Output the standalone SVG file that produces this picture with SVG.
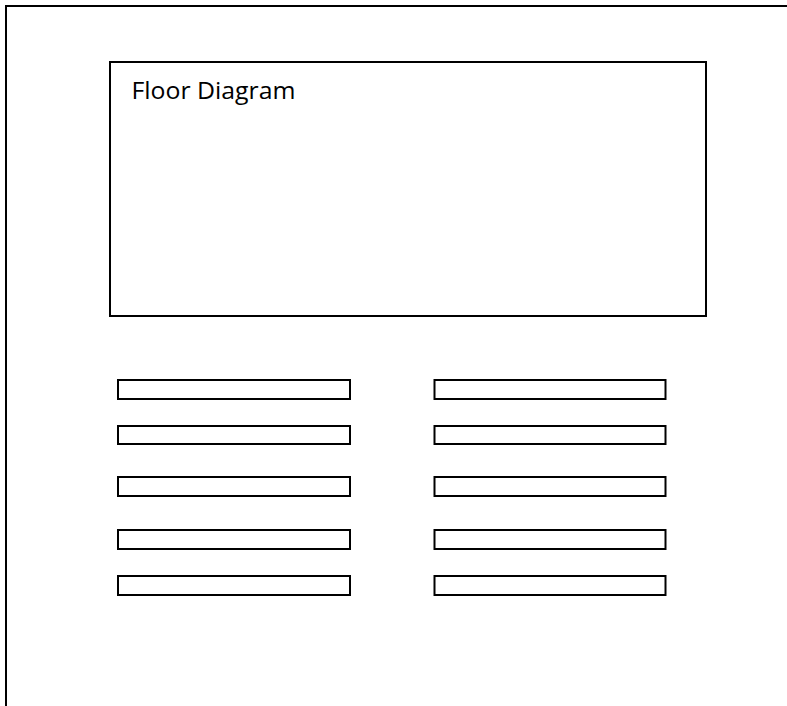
<svg xmlns="http://www.w3.org/2000/svg" width="787" height="706" viewBox="0 0 787 706">
<style>
.frame{fill:none;stroke:#000;stroke-width:2}
.bar{fill:#fff;stroke:#000;stroke-width:2}
.lbl{font-family:"Open Sans","Liberation Sans",sans-serif;font-size:24px;fill:#000}
</style>
<rect width="787" height="706" fill="#fff"/>
<g id="outer-frame">
<path class="frame" d="M6,706 V6 H787"/>
</g>
<g id="floor-diagram">
<rect class="frame" x="110" y="62" width="596" height="254"/>
<text class="lbl" x="131.5" y="99" textLength="164" lengthAdjust="spacingAndGlyphs">Floor Diagram</text>
</g>
<g id="fields-left">
<rect id="f-l1" class="bar" x="118" y="380" width="232" height="19"/>
<rect id="f-l2" class="bar" x="118" y="426" width="232" height="18"/>
<rect id="f-l3" class="bar" x="118" y="477" width="232" height="19"/>
<rect id="f-l4" class="bar" x="118" y="530" width="232" height="19"/>
<rect id="f-l5" class="bar" x="118" y="576" width="232" height="19"/>
</g>
<g id="fields-right">
<rect id="f-r1" class="bar" x="434.5" y="380" width="231" height="19"/>
<rect id="f-r2" class="bar" x="434.5" y="426" width="231" height="18"/>
<rect id="f-r3" class="bar" x="434.5" y="477" width="231" height="19"/>
<rect id="f-r4" class="bar" x="434.5" y="530" width="231" height="19"/>
<rect id="f-r5" class="bar" x="434.5" y="576" width="231" height="19"/>
</g>
<g id="connectors"></g>
</svg>
